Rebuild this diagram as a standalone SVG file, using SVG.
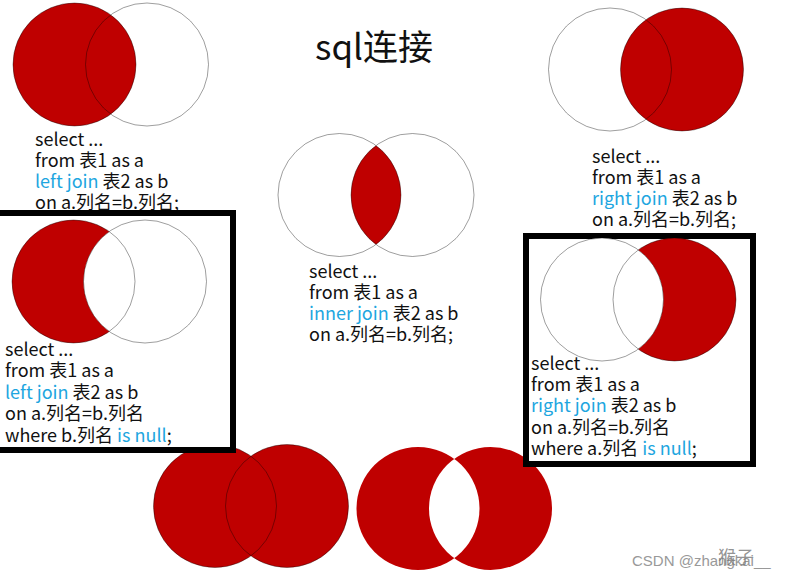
<svg xmlns="http://www.w3.org/2000/svg" width="786" height="579" viewBox="0 0 786 579">
<style>
.t{font-family:"Noto Sans CJK SC","Noto Sans",sans-serif;font-size:18px;fill:#111}
.b{fill:#1ea6e0}
.red{fill:#bf0000}
.wh{fill:#fff}
.ol{fill:none;stroke:#000;stroke-opacity:0.38;stroke-width:1}
.box{fill:#fff;stroke:#000;stroke-width:6}
</style>
<defs>
<clipPath id="c3"><circle cx="339.5" cy="195" r="61.5"/></clipPath>
<clipPath id="c7"><circle cx="418" cy="508.5" r="61.5"/></clipPath>
</defs>
<rect width="786" height="579" fill="#fff"/>
<text x="315" y="60" style="font-family:'Noto Sans CJK SC','Noto Sans',sans-serif;font-size:35px;fill:#111">sql连接</text>

<g id="left-join">
<circle class="red" cx="74.5" cy="64.5" r="61.5"/>
<circle class="ol" cx="74.5" cy="64.5" r="61.5"/>
<circle class="ol" cx="147" cy="64.5" r="61.5"/>
<text class="t" x="35" y="146">select ...</text>
<text class="t" x="35" y="167">from 表1 as a</text>
<text class="t" x="35" y="188"><tspan class="b">left join</tspan> 表2 as b</text>
<text class="t" x="35" y="209">on a.列名=b.列名;</text>
</g>

<g id="right-join">
<circle class="red" cx="682" cy="69.5" r="61.5"/>
<circle class="ol" cx="610" cy="69.5" r="61.5"/>
<circle class="ol" cx="682" cy="69.5" r="61.5"/>
<text class="t" x="592" y="163">select ...</text>
<text class="t" x="592" y="184">from 表1 as a</text>
<text class="t" x="592" y="205"><tspan class="b">right join</tspan> 表2 as b</text>
<text class="t" x="592" y="226">on a.列名=b.列名;</text>
</g>

<g id="inner-join">
<circle class="red" cx="412.5" cy="195" r="61.5" clip-path="url(#c3)"/>
<circle class="ol" cx="339.5" cy="195" r="61.5"/>
<circle class="ol" cx="412.5" cy="195" r="61.5"/>
<text class="t" x="309" y="278">select ...</text>
<text class="t" x="309" y="299">from 表1 as a</text>
<text class="t" x="309" y="320"><tspan class="b">inner join</tspan> 表2 as b</text>
<text class="t" x="309" y="341">on a.列名=b.列名;</text>
</g>

<g id="full-join">
<circle class="red" cx="215" cy="506" r="61.5"/>
<circle class="red" cx="287" cy="506" r="61.5"/>
<circle class="ol" cx="215" cy="506" r="61.5"/>
<circle class="ol" cx="287" cy="506" r="61.5"/>
</g>

<g id="full-join-exclusive">
<circle class="red" cx="418" cy="508.5" r="61.5"/>
<circle class="red" cx="490.5" cy="508.5" r="61.5"/>
<circle class="wh" cx="490.5" cy="508.5" r="61.5" clip-path="url(#c7)"/>
</g>

<g id="left-only">
<rect class="box" x="-4" y="213" width="237" height="237"/>
<circle class="red" cx="73.5" cy="281.5" r="61.5"/>
<circle class="wh" cx="145" cy="281.5" r="61.5"/>
<circle class="ol" cx="73.5" cy="281.5" r="61.5"/>
<circle class="ol" cx="145" cy="281.5" r="61.5"/>
<text class="t" x="5" y="356">select ...</text>
<text class="t" x="5" y="377">from 表1 as a</text>
<text class="t" x="5" y="399"><tspan class="b">left join</tspan> 表2 as b</text>
<text class="t" x="5" y="420">on a.列名=b.列名</text>
<text class="t" x="5" y="442">where b.列名 <tspan class="b">is null</tspan>;</text>
</g>

<g id="right-only">
<rect class="box" x="526" y="236" width="227" height="228"/>
<circle class="red" cx="674.5" cy="299.5" r="61.5"/>
<circle class="wh" cx="602" cy="299.5" r="61.5"/>
<circle class="ol" cx="602" cy="299.5" r="61.5"/>
<circle class="ol" cx="674.5" cy="299.5" r="61.5"/>
<text class="t" x="531" y="370">select ...</text>
<text class="t" x="531" y="391">from 表1 as a</text>
<text class="t" x="531" y="412"><tspan class="b">right join</tspan> 表2 as b</text>
<text class="t" x="531" y="434">on a.列名=b.列名</text>
<text class="t" x="531" y="455">where a.列名 <tspan class="b">is null</tspan>;</text>
</g>

<g id="watermark">
<text x="632" y="566" style="font-family:'Liberation Sans',sans-serif;font-size:15px;fill:#999">CSDN @zhangkai__</text>
<text x="718" y="564" style="font-family:'Noto Sans CJK SC',sans-serif;font-size:18px;fill:#777;fill-opacity:0.8">猴子</text>
</g>
</svg>
